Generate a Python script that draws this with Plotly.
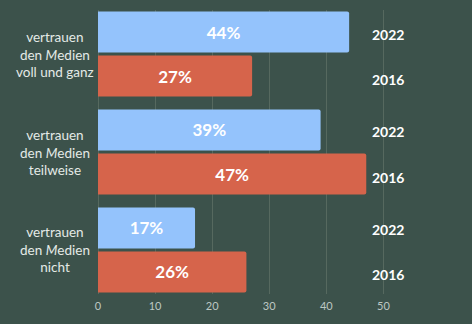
import plotly.graph_objects as go

# Survey answers: trust in the media, 2022 vs 2016 (percent)
categories = ["vertrauen<br>den <i>M</i>edien<br>voll und ganz",
              "vertrauen<br>den <i>M</i>edien<br>teilweise",
              "vertrauen<br>den <i>M</i>edien<br>nicht"]
years = ["2022", "2016"]
values_2022 = [44, 39, 17]
values_2016 = [27, 47, 26]
x_ticks = [0, 10, 20, 30, 40, 50]

BG = "#3c524b"
BLUE = "#94c3fc"
RED = "#d6644b"
GRID = "#56695f"
FONT = "Lato"

idx = list(range(len(categories)))

fig = go.Figure()
for year, vals, color in [(years[0], values_2022, BLUE), (years[1], values_2016, RED)]:
    fig.add_trace(go.Bar(
        y=idx, x=vals, orientation="h", name=year,
        marker=dict(color=color, line=dict(width=0)),
        text=[f"{v}%" for v in vals],
        textposition="inside", insidetextanchor="middle",
        textfont=dict(family=FONT, size=17, color="white", weight="bold"),
        hoverinfo="skip",
    ))

annotations = []
# category labels on the left
for i, cat in enumerate(categories):
    annotations.append(dict(
        x=-0.116, xref="paper", y=i, yref="y", text=cat,
        showarrow=False, xanchor="center", yanchor="middle", align="center",
        font=dict(family=FONT, size=13.5, color="#e4eae7"),
    ))
# year labels to the right of each bar pair
for i in idx:
    for j, year in enumerate(years):
        annotations.append(dict(
            x=50.8, xref="x", y=i + (-0.225 if j == 0 else 0.225), yref="y",
            text=f"<b>{year}</b>", showarrow=False, xanchor="center",
            yanchor="middle", yshift=-2 if j == 0 else -3,
            font=dict(family=FONT, size=14, color="white"),
        ))

fig.update_layout(
    width=472, height=324,
    margin=dict(l=98, r=3, t=10, b=30),
    paper_bgcolor=BG, plot_bgcolor=BG,
    barmode="group", bargap=0.1, bargroupgap=0.07,
    barcornerradius=2,
    showlegend=False,
    annotations=annotations,
    xaxis=dict(
        range=[0, 65], tickvals=x_ticks, ticktext=[str(t) for t in x_ticks],
        showgrid=True, gridcolor=GRID, gridwidth=1,
        zeroline=True, zerolinecolor=GRID, zerolinewidth=1,
        showline=False, ticks="", ticklen=0, ticklabelstandoff=4,
        tickfont=dict(family=FONT, size=11, color="#bcc8c3"),
        fixedrange=True,
    ),
    yaxis=dict(
        range=[2.45, -0.45], showticklabels=False, showgrid=False,
        zeroline=False, showline=False, ticks="", fixedrange=True,
    ),
)

fig.write_html("out.html")
